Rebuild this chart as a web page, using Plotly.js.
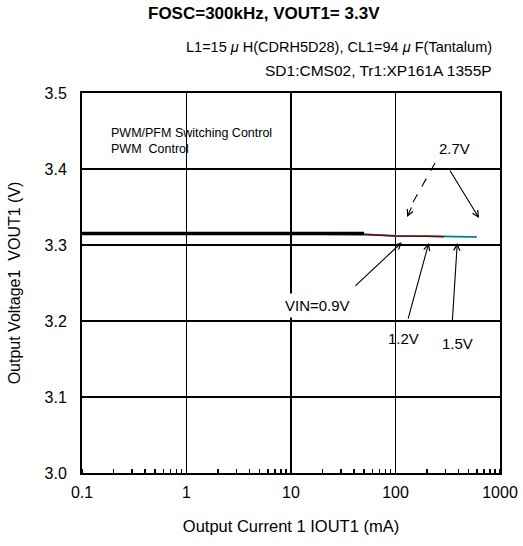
<!DOCTYPE html>
<html><head><meta charset="utf-8">
<script src="https://cdn.plot.ly/plotly-3.0.1.min.js"></script>
<style>html,body{margin:0;padding:0;background:#fff}</style>
</head><body>
<div id="chart" style="width:523px;height:546px"></div>
<script>
// Output current (mA) and output voltage (V)
const iout_cyan = [0.1, 1, 10, 50, 100, 200, 400, 600];
const vout_cyan = [3.315, 3.315, 3.315, 3.314, 3.3125, 3.312, 3.3115, 3.311];
const iout_teal = [0.1, 1, 10, 50, 100, 200, 400, 600];
const vout_teal = [3.3145, 3.3145, 3.3145, 3.3135, 3.312, 3.3115, 3.311, 3.3105];
const iout_red  = [0.1, 1, 10, 50, 100, 200, 290];
const vout_red  = [3.315, 3.315, 3.315, 3.314, 3.312, 3.3115, 3.311];
const iout_black = [0.1, 1, 10, 30, 50];
const vout_black = [3.315, 3.315, 3.315, 3.315, 3.315];
const xTickVals = [0.1, 1, 10, 100, 1000];
const xTickText = ['0.1', '1', '10', '100', '1000'];
const yTickVals = [3.0, 3.1, 3.2, 3.3, 3.4, 3.5];
const yTickText = ['3.0', '3.1', '3.2', '3.3', '3.4', '3.5'];

const traces = [
  {x: iout_cyan, y: vout_cyan, mode: 'lines', line: {color: '#33cccc', width: 1.5}},
  {x: iout_teal, y: vout_teal, mode: 'lines', line: {color: '#008080', width: 1.5}},
  {x: iout_red, y: vout_red, mode: 'lines', line: {color: '#800000', width: 1.5}},
  {x: iout_black, y: vout_black, mode: 'lines', line: {color: '#000000', width: 3.5}}
];

const L = Math.log10;
const txt = {family: 'Liberation Sans, Arial, sans-serif', color: '#000'};
const arr = {text: '', showarrow: true, arrowhead: 5, arrowsize: 1.1, arrowwidth: 1.1, arrowcolor: '#000'};
const annotations = [
  {xref:'paper', yref:'paper', x:0.435, y:1.21, text:'<b>FOSC=300kHz, VOUT1= 3.3V</b>', showarrow:false, font:{...txt, size:17}, xanchor:'center', yanchor:'middle'},
  {xref:'paper', yref:'paper', x:0.985, y:1.121, text:'L1=15 <i>μ</i> H(CDRH5D28), CL1=94 <i>μ</i> F(Tantalum)', showarrow:false, font:{...txt, size:14.5}, xanchor:'right', yanchor:'middle'},
  {xref:'paper', yref:'paper', x:0.985, y:1.06, text:'SD1:CMS02, Tr1:XP161A 1355P', showarrow:false, font:{...txt, size:15.5}, xanchor:'right', yanchor:'middle'},
  {xref:'paper', yref:'paper', x:0.065, y:0.874, text:'PWM/PFM Switching Control<br>PWM  Control', align:'left', showarrow:false, font:{...txt, size:12.5}, xanchor:'left', yanchor:'middle'},
  // VIN=0.9V
  {...arr, x: L(115), y: 3.3035, ax: -48, ay: 45},
  {x: L(18), y: 3.22, text: 'VIN=0.9V', showarrow: false, bgcolor: '#fff', font: {...txt, size: 15}, borderpad: 3},
  // 1.2V
  {...arr, x: L(208), y: 3.3025, ax: -21, ay: 77},
  {x: L(120), y: 3.1775, text: '1.2V', showarrow: false, font: {...txt, size: 15}},
  // 1.5V
  {...arr, x: L(390), y: 3.3025, ax: -5, ay: 79},
  {x: L(390), y: 3.171, text: '1.5V', showarrow: false, font: {...txt, size: 15}},
  // 2.7V
  {x: L(365), y: 3.4276, text: '2.7V', showarrow: false, font: {...txt, size: 15}},
  {...arr, x: L(630), y: 3.3355, ax: -30, ay: -49},
  {...arr, x: L(129), y: 3.3368, ax: 5, ay: -11}
];
const shapes = [
  {type:'line', xref:'x', yref:'y', x0: 239, y0: 3.408, x1: 140, y1: 3.351, line:{color:'#000', width:1.1, dash:'dash'}}
];

const layout = {
  width: 523, height: 546,
  margin: {l: 82, r: 23, t: 93, b: 73},
  paper_bgcolor: '#fff', plot_bgcolor: '#fff',
  showlegend: false,
  font: {...txt, size: 15},
  xaxis: {
    type: 'log', range: [-1, 3],
    tickvals: xTickVals, ticktext: xTickText,
    showgrid: true, gridcolor: '#000', gridwidth: 1.5,
    showline: true, linecolor: '#000', linewidth: 2, mirror: true,
    ticks: '', tickfont: {...txt, size: 16}, ticklabelstandoff: 4,
    minor: {dtick: 'D1', ticks: 'inside', ticklen: 4, tickcolor: '#000', tickwidth: 1.5, showgrid: false},
    title: {text: 'Output Current 1 IOUT1 (mA)', font: {...txt, size: 16.5}, standoff: 20},
    zeroline: false
  },
  yaxis: {
    range: [3.0, 3.5],
    tickvals: yTickVals, ticktext: yTickText,
    showgrid: true, gridcolor: '#000', gridwidth: 1.5,
    showline: true, linecolor: '#000', linewidth: 2, mirror: true,
    ticks: '', tickfont: {...txt, size: 16}, ticklabelstandoff: 10,
    title: {text: 'Output Voltage1  VOUT1 (V)', font: {...txt, size: 16}, standoff: 20},
    zeroline: false
  },
  annotations: annotations,
  shapes: shapes
};
Plotly.newPlot('chart', traces, layout, {staticPlot: true, displayModeBar: false});
</script>
</body></html>
